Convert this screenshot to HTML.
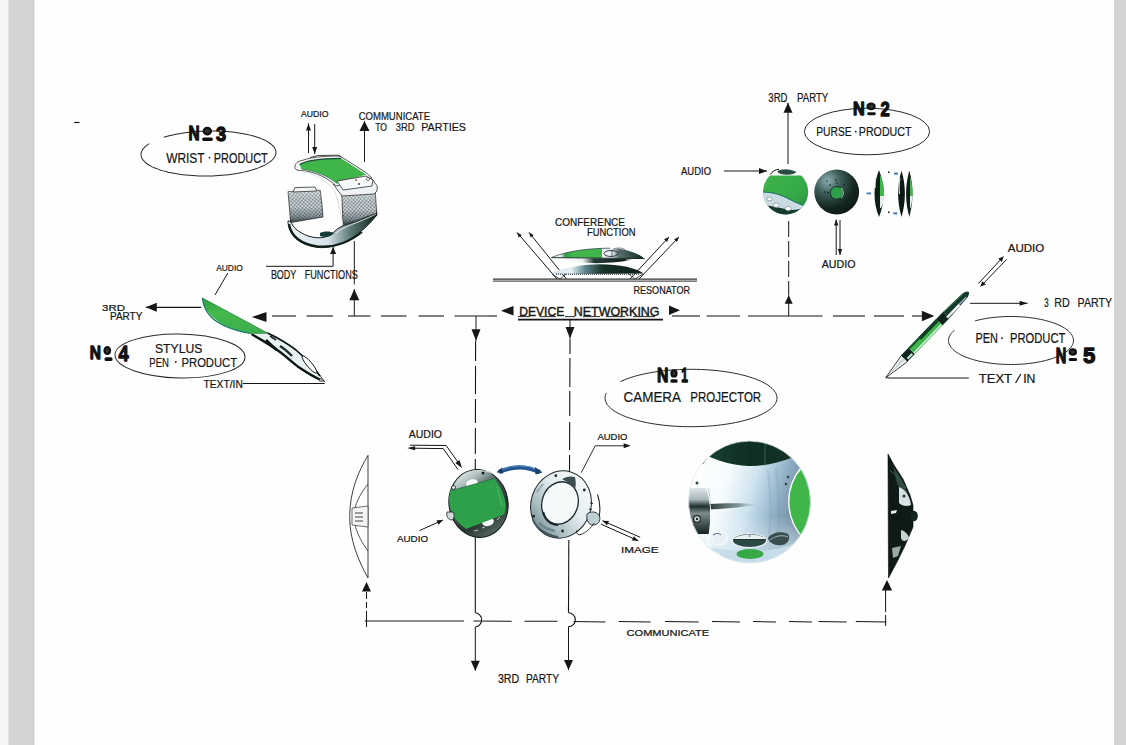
<!DOCTYPE html>
<html><head><meta charset="utf-8"><style>
html,body{margin:0;padding:0;background:#fff;}
#page{position:relative;width:1126px;height:745px;overflow:hidden;background:#fefefe;font-family:"Liberation Sans",sans-serif;}
.b1{position:absolute;left:0;top:0;width:8px;height:745px;background:linear-gradient(to right,#f6f6f6 0px,#f6f6f6 7px,#f8f8fa 7px);}
.b2{position:absolute;left:8px;top:0;width:26px;height:745px;background:linear-gradient(to right,#e4e4e6 0px,#e4e4e6 1px,#d4d4d7 1px,#d4d4d7 25px,#cdcdcf 25px,#cdcdcf 26px);}
.b2e{position:absolute;left:34px;top:0;width:1px;height:745px;background:#eeeef0;}
.b3{position:absolute;left:1114px;top:0;width:12px;height:745px;background:#d4d4d6;}
svg{position:absolute;left:0;top:0;}
svg text{font-family:"Liberation Sans",sans-serif;}
</style></head><body><div id="page"><div class="b1"></div><div class="b2"></div><div class="b2e"></div><div class="b3"></div>
<svg width="1126" height="745" viewBox="0 0 1126 745">
<defs>
<linearGradient id="gGreen" x1="0" y1="0" x2="0" y2="1">
 <stop offset="0" stop-color="#2e9e44"/><stop offset="0.4" stop-color="#43b84b"/><stop offset="1" stop-color="#3db04c"/>
</linearGradient>
<linearGradient id="gSilver" x1="0" y1="0" x2="1" y2="1">
 <stop offset="0" stop-color="#ffffff"/><stop offset="0.45" stop-color="#dfe8ee"/><stop offset="0.8" stop-color="#9fb3bd"/><stop offset="1" stop-color="#5f7580"/>
</linearGradient>
<linearGradient id="gDark" x1="0" y1="0" x2="1" y2="1">
 <stop offset="0" stop-color="#3c5a52"/><stop offset="0.5" stop-color="#0f2a24"/><stop offset="1" stop-color="#06140f"/>
</linearGradient>
<radialGradient id="gDisc" cx="0.35" cy="0.3" r="0.8">
 <stop offset="0" stop-color="#5a7a72"/><stop offset="0.5" stop-color="#1d3a33"/><stop offset="1" stop-color="#081812"/>
</radialGradient>
<pattern id="mesh" width="2.6" height="2.6" patternUnits="userSpaceOnUse" patternTransform="rotate(40)">
 <rect width="2.6" height="2.6" fill="#e4ecef"/><circle cx="1.3" cy="1.3" r="0.85" fill="#56686e"/>
</pattern>
</defs>
<path d="M164.22,136.52 L166.79,135.81 L169.46,135.14 L172.23,134.52 L175.09,133.95 L178.03,133.42 L181.05,132.95 L184.13,132.52 L187.27,132.14 L190.46,131.82 L193.70,131.55 L196.97,131.33 L200.27,131.17 L203.60,131.06 L206.93,131.01 L210.27,131.01 L213.60,131.06 L216.92,131.18 L220.22,131.34 L223.49,131.56 L226.73,131.84 L229.92,132.16 L233.06,132.54 L236.13,132.97 L239.14,133.45 L242.08,133.98 L244.93,134.56 L247.70,135.18 L250.37,135.85 L252.93,136.56 L255.39,137.31 L257.73,138.11 L259.95,138.94 L262.05,139.80 L264.02,140.70 L265.85,141.63 L267.54,142.59 L269.08,143.58 L270.48,144.59 L271.73,145.62 L272.82,146.67 L273.75,147.74 L274.52,148.82 L275.14,149.92 L275.59,151.02 L275.87,152.13 L276.00,153.24 L275.95,154.35 L275.74,155.46 L275.37,156.57 L274.83,157.66 L274.13,158.75 L273.28,159.83 L272.26,160.89 L271.08,161.93 L269.76,162.95 L268.28,163.95 L266.66,164.92 L264.90,165.86 L262.99,166.78 L260.96,167.66 L258.79,168.51 L256.51,169.32 L254.10,170.09 L251.59,170.82 L248.97,171.51 L246.25,172.15 L243.43,172.75 L240.54,173.30 L237.56,173.81 L234.51,174.26 L231.40,174.67 L228.24,175.02 L225.02,175.32 L221.76,175.56 L218.48,175.75 L215.17,175.89 L211.84,175.97 L208.50,176.00 L205.16,175.97 L201.83,175.89 L198.52,175.75 L195.24,175.56 L191.98,175.32 L188.76,175.02 L185.60,174.67 L182.49,174.26 L179.44,173.81 L176.46,173.30 L173.57,172.75 L170.75,172.15 L168.03,171.51 L165.41,170.82 L162.90,170.09 L160.49,169.32 L158.21,168.51 L156.04,167.66 L154.01,166.78 L152.10,165.86 L150.34,164.92 L148.72,163.95 L147.24,162.95 L145.92,161.93 L144.74,160.89 L143.72,159.83 L142.87,158.75 L142.17,157.66 L141.63,156.57 L141.26,155.46 L141.05,154.35 L141.00,153.24 L141.13,152.13 L141.41,151.02 L141.86,149.92 L142.48,148.82 L143.25,147.74 L144.18,146.67 L145.27,145.62 L146.52,144.59 L147.92,143.58 L149.46,142.59" fill="none" stroke="#2a2a2a" stroke-width="1.0" stroke-linejoin="round" transform="rotate(-1 208.5 153.5)"/>
<text x="188.4" y="139.9" font-size="20.06" font-weight="bold" fill="#111" textLength="11.1" lengthAdjust="spacingAndGlyphs" stroke="#111" stroke-width="1.3" stroke-linejoin="round">N</text>
<ellipse cx="207.3" cy="131.1" rx="3.6" ry="3.2" fill="#333" stroke="#111" stroke-width="2.2"/>
<rect x="202.2" y="137.5" width="10.6" height="3.4" rx="1.5" fill="#111"/>
<text x="215.9" y="140.7" font-size="20.49" font-weight="bold" fill="#111" textLength="10.1" lengthAdjust="spacingAndGlyphs" stroke="#111" stroke-width="1.3" stroke-linejoin="round">3</text>
<text x="166.2" y="162.5" font-size="14.39" font-weight="normal" fill="#161616" textLength="38.4" lengthAdjust="spacingAndGlyphs" stroke="#151515" stroke-width="0.22">WRIST</text>
<circle cx="209.5" cy="157.6" r="0.9" fill="#161616"/>
<text x="213.8" y="162.5" font-size="14.39" font-weight="normal" fill="#161616" textLength="54.0" lengthAdjust="spacingAndGlyphs" stroke="#151515" stroke-width="0.22">PRODUCT</text>
<text x="301.0" y="116.6" font-size="8.58" font-weight="normal" fill="#161616" textLength="27.4" lengthAdjust="spacingAndGlyphs" stroke="#151515" stroke-width="0.22">AUDIO</text>
<line x1="308.5" y1="153" x2="308.5" y2="123.4" stroke="#161616" stroke-width="1.0"/>
<polygon points="308.5,123.4 311.0,130.4 306.0,130.4" fill="#161616"/>
<line x1="314.7" y1="124" x2="314.7" y2="154" stroke="#161616" stroke-width="1.0"/>
<polygon points="314.7,154.0 312.2,147.0 317.2,147.0" fill="#161616"/>
<text x="358.7" y="119.5" font-size="11.63" font-weight="normal" fill="#161616" textLength="71.3" lengthAdjust="spacingAndGlyphs" stroke="#151515" stroke-width="0.22">COMMUNICATE</text>
<text x="375.3" y="131.3" font-size="11.63" font-weight="normal" fill="#161616" textLength="11.7" lengthAdjust="spacingAndGlyphs" stroke="#151515" stroke-width="0.22">TO</text>
<text x="395.8" y="131.3" font-size="11.63" font-weight="normal" fill="#161616" textLength="18.6" lengthAdjust="spacingAndGlyphs" stroke="#151515" stroke-width="0.22">3RD</text>
<text x="421.2" y="131.3" font-size="11.63" font-weight="normal" fill="#161616" textLength="44.8" lengthAdjust="spacingAndGlyphs" stroke="#151515" stroke-width="0.22">PARTIES</text>
<line x1="364.5" y1="162" x2="364.5" y2="121" stroke="#161616" stroke-width="1.0"/>
<polygon points="364.5,121.0 369.5,131.0 359.5,131.0" fill="#161616"/>
<linearGradient id="gBase" x1="0" y1="0" x2="1" y2="0">
 <stop offset="0" stop-color="#eef3f5"/><stop offset="0.45" stop-color="#d6e2e8"/><stop offset="0.7" stop-color="#5d7a78"/><stop offset="1" stop-color="#0d201a"/></linearGradient>
<linearGradient id="gMeshShade" x1="0" y1="0" x2="0" y2="1">
 <stop offset="0" stop-color="#fff" stop-opacity="0.25"/><stop offset="0.5" stop-color="#000" stop-opacity="0.05"/><stop offset="0.8" stop-color="#0a1a20" stop-opacity="0.35"/><stop offset="1" stop-color="#0a1a20" stop-opacity="0.75"/></linearGradient>
<path d="M288,221 C288,234 298,245 318,247.5 C338,249 358,238 377,215 L376.5,211 C366,218 356,222 348,224 C340,226 336,230 332,234 C326,238 318,239 308,236 C298,232 292,227 291,221 Z" fill="url(#gBase)" stroke="#0e1e1a" stroke-width="1.0" />
<path d="M289,224 C291,236 300,244 318,246.5 C336,248 352,240 362,232" fill="none" stroke="#0e1e1a" stroke-width="2.2" />
<path d="M320,233 C324,231 330,231 334,233 C331,237 325,238 320,236 Z" fill="#163a36" stroke="none" stroke-width="1.0" />
<path d="M336,233 C344,226 356,224 376,214" fill="none" stroke="#ffffff" stroke-width="0.8" />
<path d="M288,191.5 L320.3,190.3 L322,205 L323,217 L290.7,222.5 Z" fill="url(#mesh)" stroke="#333" stroke-width="0.8" />
<path d="M288,191.5 L320.3,190.3 L322,205 L323,217 L290.7,222.5 Z" fill="url(#gMeshShade)" stroke="none" stroke-width="1.0" />
<path d="M294.8,187.6 L315,187 L317,191 L293,192 Z" fill="#f0f4f6" stroke="#333" stroke-width="0.8" />
<path d="M341.8,194.3 L375.3,193 L376.7,213 L358,220 L343,225 Z" fill="url(#mesh)" stroke="#333" stroke-width="0.8" />
<path d="M341.8,194.3 L375.3,193 L376.7,213 L358,220 L343,225 Z" fill="url(#gMeshShade)" stroke="none" stroke-width="1.0" />
<path d="M333,184 L372,179 L377.3,186 L377,191 L374,194 L342,196 Z" fill="#eef2f4" stroke="#333" stroke-width="0.8" />
<path d="M294.8,167.5 C295,163 298,161 302,160.5 C310,157.5 322,156 340,156 L366,172.5 L372,178 L336,186 C328,178 316,172 302,170.5 C298,170.5 295,170 294.8,167.5 Z" fill="#f2f5f7" stroke="#333" stroke-width="0.8" />
<path d="M310,157.5 L318,155.5 L338,155.2 L341,157" fill="none" stroke="#333" stroke-width="0.9" />
<path d="M299.5,164.5 C306,160.5 318,158.5 341,158.3 L366,174.5 L337,183.5 C328,176 316,171 301.5,169 Z" fill="#3fb54a" stroke="none" stroke-width="1.0" />
<path d="M299.5,164.5 C306,160.5 318,158.5 341,158.3" fill="none" stroke="#1f4a3a" stroke-width="1.2" />
<path d="M301.5,169 C316,171 328,176 337,183.5" fill="none" stroke="#1f6a3a" stroke-width="0.6" />
<path d="M337,181 L366,176 L373,180 L372,186 L343,190 Z" fill="#f6f8f9" stroke="#333" stroke-width="0.8" />
<circle cx="356" cy="180" r="0.9" fill="#a33"/><circle cx="359" cy="184" r="0.9" fill="#333"/><circle cx="368" cy="179" r="1.6" fill="none" stroke="#333" stroke-width="0.6"/>
<path d="M302,171 C316,174 328,182 334,190 C338,198 340,210 343,225" fill="none" stroke="#cbd6dc" stroke-width="0.8" />
<text x="270.9" y="279.0" font-size="12.35" font-weight="normal" fill="#161616" textLength="25.4" lengthAdjust="spacingAndGlyphs" stroke="#151515" stroke-width="0.22">BODY</text>
<text x="304.7" y="279.0" font-size="12.35" font-weight="normal" fill="#161616" textLength="53.2" lengthAdjust="spacingAndGlyphs" stroke="#151515" stroke-width="0.22">FUNCTIONS</text>
<line x1="266" y1="266.3" x2="333.1" y2="266.3" stroke="#161616" stroke-width="1.0"/>
<line x1="333.1" y1="266.3" x2="333.1" y2="247" stroke="#161616" stroke-width="1.0"/>
<polygon points="333.1,247.0 336.1,254.0 330.1,254.0" fill="#161616"/>
<line x1="354.3" y1="241" x2="354.3" y2="284.4" stroke="#161616" stroke-width="1.0"/>
<line x1="354.3" y1="316" x2="354.3" y2="289.2" stroke="#161616" stroke-width="1.0"/>
<polygon points="354.3,289.2 359.3,300.2 349.3,300.2" fill="#161616"/>
<text x="216.2" y="270.8" font-size="9.45" font-weight="normal" fill="#161616" textLength="26.6" lengthAdjust="spacingAndGlyphs" stroke="#151515" stroke-width="0.22">AUDIO</text>
<line x1="227.8" y1="273" x2="215" y2="295" stroke="#161616" stroke-width="1.0"/>
<line x1="201.2" y1="307.3" x2="145.8" y2="307.3" stroke="#161616" stroke-width="1.2"/>
<polygon points="145.8,307.3 156.8,302.8 156.8,311.8" fill="#161616"/>
<text x="102.0" y="310.5" font-size="9.01" font-weight="normal" fill="#161616" textLength="23.0" lengthAdjust="spacingAndGlyphs" stroke="#151515" stroke-width="0.22">3RD</text>
<text x="110.0" y="320.4" font-size="10.03" font-weight="normal" fill="#161616" textLength="32.3" lengthAdjust="spacingAndGlyphs" stroke="#151515" stroke-width="0.22">PARTY</text>
<ellipse cx="180" cy="356" rx="65" ry="22" fill="none" stroke="#2a2a2a" stroke-width="1.0" transform="rotate(1 180 356)"/>
<text x="89.7" y="358.9" font-size="19.19" font-weight="bold" fill="#111" textLength="11.2" lengthAdjust="spacingAndGlyphs" stroke="#111" stroke-width="1.3" stroke-linejoin="round">N</text>
<ellipse cx="107.3" cy="350.6" rx="2.8" ry="3.4" fill="#333" stroke="#111" stroke-width="2.2"/>
<rect x="104.5" y="357.3" width="8.0" height="3.6" rx="1.5" fill="#111"/>
<text x="118.4" y="361.2" font-size="22.82" font-weight="bold" fill="#111" textLength="10.1" lengthAdjust="spacingAndGlyphs" stroke="#111" stroke-width="1.3" stroke-linejoin="round">4</text>
<text x="155.0" y="353.4" font-size="12.65" font-weight="normal" fill="#161616" textLength="47.4" lengthAdjust="spacingAndGlyphs" stroke="#151515" stroke-width="0.22">STYLUS</text>
<text x="149.3" y="366.6" font-size="13.37" font-weight="normal" fill="#161616" textLength="19.6" lengthAdjust="spacingAndGlyphs" stroke="#151515" stroke-width="0.22">PEN</text>
<circle cx="175.8" cy="362.0" r="0.9" fill="#161616"/>
<text x="181.6" y="366.6" font-size="13.37" font-weight="normal" fill="#161616" textLength="55.4" lengthAdjust="spacingAndGlyphs" stroke="#151515" stroke-width="0.22">PRODUCT</text>
<text x="203.5" y="388.0" font-size="10.90" font-weight="normal" fill="#161616" textLength="39.3" lengthAdjust="spacingAndGlyphs" stroke="#151515" stroke-width="0.22">TEXT/IN</text>
<line x1="243" y1="383.5" x2="324.7" y2="383.5" stroke="#161616" stroke-width="1.0"/>
<path d="M251,333 L267.5,333 C280,338 292,346 302,355 C310,362 318,372 324,381 C316,379 306,373 298,367 C290,360 282,352 275,349 C266,344 258,338 251,334 Z" fill="#e9f1f2" stroke="#0e1a16" stroke-width="0.8" />
<path d="M252,334.5 C262,340 272,346 280,352 C288,358 294,364 300,368 C306,372 314,377 322,380.5" fill="none" stroke="#0c1612" stroke-width="2.4" />
<path d="M267.5,333 C278,338 288,344 296,350 C304,357 312,366 320,376" fill="none" stroke="#0c1612" stroke-width="1.6" />
<path d="M266,340 C270,344 274,348 277,350" fill="none" stroke="#0c1612" stroke-width="2.6" />
<path d="M280,346 C285,349 289,353 292,356" fill="none" stroke="#1a2a26" stroke-width="2.4" />
<path d="M270,336 L276,340" fill="none" stroke="#1a2a26" stroke-width="1.6" />
<ellipse cx="309.5" cy="364.5" rx="11" ry="2.6" fill="#ffffff" stroke="#0c1612" stroke-width="0.9" transform="rotate(50 309.5 364.5)"/>
<path d="M320,378 L325,381.5 L319,381 Z" fill="#bbb" stroke="#222" stroke-width="0.6" />
<path d="M202.4,298 L267.5,333 C260,334 252,334 248.7,333 C240,331 232,329 226,326 C216,321 208,314 204,306 C203,303 202.4,300 202.4,298 Z" fill="url(#gGreen)" stroke="none" stroke-width="1.0" />
<path d="M202.4,298 C203,305 206,312 212,318 C220,325 232,330 250,333.5" fill="none" stroke="#137a6a" stroke-width="1.2" />
<path d="M202.4,298 L267.5,333" fill="none" stroke="#2c8a3a" stroke-width="0.8" />
<polygon points="252.0,317.0 266.5,312.0 266.5,322.0" fill="#161616"/>
<line x1="272" y1="316" x2="296" y2="316" stroke="#161616" stroke-width="1.1"/>
<line x1="306.6" y1="316" x2="333" y2="316" stroke="#161616" stroke-width="1.1"/>
<line x1="348" y1="316" x2="370.5" y2="316" stroke="#161616" stroke-width="1.1"/>
<line x1="381" y1="316" x2="406.5" y2="316" stroke="#161616" stroke-width="1.1"/>
<line x1="418.5" y1="316" x2="444" y2="316" stroke="#161616" stroke-width="1.1"/>
<line x1="454.5" y1="316" x2="488" y2="316" stroke="#161616" stroke-width="1.1"/>
<line x1="672" y1="316" x2="700" y2="316" stroke="#161616" stroke-width="1.1"/>
<line x1="706.6" y1="316" x2="740" y2="316" stroke="#161616" stroke-width="1.1"/>
<line x1="748" y1="316" x2="822.5" y2="316" stroke="#161616" stroke-width="1.1"/>
<line x1="833" y1="316" x2="865" y2="316" stroke="#161616" stroke-width="1.1"/>
<line x1="874" y1="316" x2="904" y2="316" stroke="#161616" stroke-width="1.1"/>
<line x1="912" y1="316" x2="924" y2="316" stroke="#161616" stroke-width="1.1"/>
<polygon points="934.4,316.0 921.9,321.2 921.9,310.8" fill="#161616"/>
<text x="519.2" y="315.5" font-size="12.65" font-weight="normal" fill="#161616" textLength="45.1" lengthAdjust="spacingAndGlyphs" stroke="#1c1c1c" stroke-width="0.45">DEVICE</text>
<text x="573.8" y="315.5" font-size="12.65" font-weight="normal" fill="#161616" textLength="85.7" lengthAdjust="spacingAndGlyphs" stroke="#1c1c1c" stroke-width="0.45">NETWORKING</text>
<line x1="518" y1="319.6" x2="663" y2="319.6" stroke="#161616" stroke-width="1.8"/>
<line x1="518" y1="316.6" x2="530" y2="316.6" stroke="#161616" stroke-width="0.9"/>
<line x1="540" y1="316.6" x2="556" y2="316.6" stroke="#161616" stroke-width="0.9"/>
<line x1="565" y1="316.6" x2="575" y2="316.6" stroke="#161616" stroke-width="0.9"/>
<line x1="583" y1="316.6" x2="600" y2="316.6" stroke="#161616" stroke-width="0.9"/>
<line x1="606" y1="316.6" x2="625" y2="316.6" stroke="#161616" stroke-width="0.9"/>
<line x1="633" y1="316.6" x2="655" y2="316.6" stroke="#161616" stroke-width="0.9"/>
<line x1="488" y1="316" x2="497" y2="316" stroke="#161616" stroke-width="1.1"/>
<polygon points="501.0,310.7 513.5,305.9 513.5,315.5" fill="#161616"/>
<polygon points="680.0,310.3 669.0,315.1 669.0,305.5" fill="#161616"/>
<line x1="476" y1="316" x2="476" y2="340.8" stroke="#161616" stroke-width="1.0"/>
<polygon points="476.0,340.8 471.5,329.3 480.5,329.3" fill="#161616"/>
<line x1="475.6" y1="341" x2="475.3" y2="470" stroke="#161616" stroke-width="1.1" stroke-dasharray="20 5 28 5 24 5 26 5 30 5"/>
<line x1="475.3" y1="537" x2="475.3" y2="612.7" stroke="#161616" stroke-width="1.1"/>
<path d="M475.3,612.7 A7.2,7.2 0 0 1 475.3,627" fill="none" stroke="#161616" stroke-width="1.1" />
<line x1="570" y1="319.5" x2="570" y2="338.5" stroke="#161616" stroke-width="1.0"/>
<polygon points="570.0,338.5 565.5,327.0 574.5,327.0" fill="#161616"/>
<line x1="570" y1="339" x2="569.5" y2="472" stroke="#161616" stroke-width="1.1" stroke-dasharray="15 4 29 4 25 6 28 5 30 5"/>
<line x1="568.8" y1="540" x2="568.5" y2="612.8" stroke="#161616" stroke-width="1.1"/>
<path d="M568.5,612.8 A6.9,6.9 0 0 1 568.5,626.6" fill="none" stroke="#161616" stroke-width="1.1" />
<text x="555.0" y="225.9" font-size="10.90" font-weight="normal" fill="#161616" textLength="70.0" lengthAdjust="spacingAndGlyphs" stroke="#151515" stroke-width="0.22">CONFERENCE</text>
<text x="587.0" y="236.0" font-size="10.76" font-weight="normal" fill="#161616" textLength="48.5" lengthAdjust="spacingAndGlyphs" stroke="#151515" stroke-width="0.22">FUNCTION</text>
<line x1="493" y1="279.2" x2="697" y2="279.2" stroke="#333" stroke-width="1.2"/>
<line x1="493" y1="281.2" x2="697" y2="281.2" stroke="#555" stroke-width="1.2"/>
<text x="633.5" y="293.6" font-size="11.05" font-weight="normal" fill="#161616" textLength="56.5" lengthAdjust="spacingAndGlyphs" stroke="#151515" stroke-width="0.22">RESONATOR</text>
<line x1="557" y1="279" x2="517" y2="232.4" stroke="#161616" stroke-width="1.0"/>
<polygon points="517.0,232.4 521.8,234.9 518.7,237.5" fill="#161616"/>
<line x1="566.5" y1="279" x2="529" y2="232.4" stroke="#161616" stroke-width="1.0"/>
<polygon points="529.0,232.4 533.7,235.0 530.6,237.5" fill="#161616"/>
<line x1="630" y1="279" x2="669" y2="237" stroke="#161616" stroke-width="1.0"/>
<polygon points="669.0,237.0 667.1,242.0 664.1,239.3" fill="#161616"/>
<line x1="639" y1="279" x2="679" y2="237" stroke="#161616" stroke-width="1.0"/>
<polygon points="679.0,237.0 677.0,242.0 674.1,239.2" fill="#161616"/>
<linearGradient id="gLow" x1="0" y1="0" x2="1" y2="0">
 <stop offset="0" stop-color="#cfe0e6"/><stop offset="0.2" stop-color="#e8f2f6"/><stop offset="0.35" stop-color="#5f8a90"/><stop offset="0.55" stop-color="#17322a"/><stop offset="1" stop-color="#0d1f19"/></linearGradient>
<linearGradient id="gUp" x1="0" y1="0" x2="1" y2="0">
 <stop offset="0" stop-color="#f4f8f8"/><stop offset="0.1" stop-color="#e8f0f0"/><stop offset="0.15" stop-color="#2f9a48"/><stop offset="0.22" stop-color="#3fb54a"/><stop offset="0.54" stop-color="#3fb54a"/><stop offset="0.545" stop-color="#f2f6f6"/><stop offset="0.66" stop-color="#e2eaee"/><stop offset="0.72" stop-color="#5a7470"/><stop offset="1" stop-color="#0d201a"/></linearGradient>
<linearGradient id="gUnder" x1="0" y1="0" x2="1" y2="0">
 <stop offset="0" stop-color="#ffffff"/><stop offset="0.3" stop-color="#e9f1f3"/><stop offset="0.45" stop-color="#243a34"/><stop offset="0.85" stop-color="#0f231c"/><stop offset="1" stop-color="#ffffff" stop-opacity="0"/></linearGradient>
<path d="M552.8,272.4 C565,267 585,264.4 600,264.2 C620,264.2 636,268 643.7,273.4 L552.8,274.2 Z" fill="url(#gLow)"/>
<line x1="556" y1="274.3" x2="640" y2="274.3" stroke="#334" stroke-width="1.4" stroke-dasharray="0.8 1.2"/>
<path d="M552,274 L560,279 L566,274" fill="none" stroke="#222" stroke-width="0.8"/>
<path d="M629,274 L635,279 L643,274" fill="none" stroke="#222" stroke-width="0.8"/>
<path d="M560,258 C575,264.5 612,265 636,258.8 Z" fill="url(#gUnder)"/>
<path d="M551.4,257.6 C566,251 590,248.2 610,248.2 C625,248.2 638,253 644.6,258.6 C620,258.4 580,258.2 551.4,257.6 Z" fill="url(#gUp)"/>
<path d="M551.4,257.6 L644.6,258.6" fill="none" stroke="#0f1f1a" stroke-width="0.9"/>
<path d="M551.4,257.6 C566,251 590,248.2 610,248.2" fill="none" stroke="#234" stroke-width="0.7"/>
<ellipse cx="611" cy="253.5" rx="7" ry="3" fill="none" stroke="#223" stroke-width="0.9"/>
<ellipse cx="619" cy="250" rx="6" ry="2" fill="none" stroke="#556" stroke-width="0.7"/>
<line x1="612" y1="251" x2="612" y2="256" stroke="#223" stroke-width="0.7"/>
<text x="768.3" y="101.6" font-size="13.23" font-weight="normal" fill="#161616" textLength="19.2" lengthAdjust="spacingAndGlyphs" stroke="#151515" stroke-width="0.22">3RD</text>
<text x="797.1" y="101.6" font-size="13.23" font-weight="normal" fill="#161616" textLength="31.2" lengthAdjust="spacingAndGlyphs" stroke="#151515" stroke-width="0.22">PARTY</text>
<line x1="788" y1="164" x2="788" y2="102.8" stroke="#161616" stroke-width="1.0"/>
<polygon points="788.0,102.8 792.5,112.8 783.5,112.8" fill="#161616"/>
<ellipse cx="867" cy="131.5" rx="62.6" ry="23.3" fill="none" stroke="#2a2a2a" stroke-width="1.0" transform="rotate(0 867 131.5)"/>
<text x="853.0" y="115.0" font-size="18.46" font-weight="bold" fill="#111" textLength="11.7" lengthAdjust="spacingAndGlyphs" stroke="#111" stroke-width="1.3" stroke-linejoin="round">N</text>
<ellipse cx="871.1" cy="106.4" rx="3.6" ry="2.8" fill="#333" stroke="#111" stroke-width="2.2"/>
<rect x="867.2" y="112.3" width="8.6" height="2.9" rx="1.5" fill="#111"/>
<text x="880.4" y="116.2" font-size="19.62" font-weight="bold" fill="#111" textLength="9.2" lengthAdjust="spacingAndGlyphs" stroke="#111" stroke-width="1.3" stroke-linejoin="round">2</text>
<text x="816.2" y="136.4" font-size="13.66" font-weight="normal" fill="#161616" textLength="35.4" lengthAdjust="spacingAndGlyphs" stroke="#151515" stroke-width="0.22">PURSE</text>
<circle cx="855.8" cy="131.7" r="0.9" fill="#161616"/>
<text x="858.8" y="136.4" font-size="13.66" font-weight="normal" fill="#161616" textLength="52.7" lengthAdjust="spacingAndGlyphs" stroke="#151515" stroke-width="0.22">PRODUCT</text>
<text x="681.0" y="174.7" font-size="10.47" font-weight="normal" fill="#161616" textLength="30.0" lengthAdjust="spacingAndGlyphs" stroke="#151515" stroke-width="0.22">AUDIO</text>
<line x1="724" y1="171" x2="767" y2="171" stroke="#161616" stroke-width="1.0"/>
<polygon points="767.0,171.0 759.0,174.0 759.0,168.0" fill="#161616"/>
<clipPath id="cGD"><circle cx="785.6" cy="191.8" r="22.6"/></clipPath>
<radialGradient id="gDisc2" cx="0.3" cy="0.25" r="0.85">
 <stop offset="0" stop-color="#8fb0b4"/><stop offset="0.35" stop-color="#3b5a56"/><stop offset="0.7" stop-color="#14281f"/><stop offset="1" stop-color="#0a1812"/></radialGradient>
<linearGradient id="gGD" x1="0" y1="0" x2="1" y2="1">
 <stop offset="0" stop-color="#3fb54a"/><stop offset="0.6" stop-color="#35a848"/><stop offset="1" stop-color="#1e7a3c"/></linearGradient>
<g clip-path="url(#cGD)">
<rect x="760" y="175.5" width="50" height="45" fill="url(#gGD)"/>
<path d="M760,192 C768,192 778,192.5 791.6,200.4 C797,203 801,205 810,207 L810,220 L760,220 Z" fill="#c9dbe3"/>
<path d="M764,205 C772,206 784,209 792,210 C798,210 804,208 810,205 L810,220 L764,220 Z" fill="#163a2c"/>
<path d="M760,192 C768,192 778,192.5 791.6,200.4 C797,203 801,205 810,207" fill="none" stroke="#1b6a6a" stroke-width="1"/>
<ellipse cx="787" cy="171.5" rx="9.5" ry="3.2" fill="#2b4a44"/>
</g>
<path d="M770.5,174.5 C772,171 776,169.5 779,169.3" fill="none" stroke="#111" stroke-width="1"/>
<ellipse cx="769.5" cy="199" rx="2.6" ry="1.8" fill="#fff" stroke="#567" stroke-width="0.5"/>
<ellipse cx="776.2" cy="205.2" rx="3" ry="2.2" fill="#fff" stroke="#567" stroke-width="0.5"/>
<ellipse cx="788.2" cy="208.6" rx="3" ry="2.2" fill="#fff" stroke="#567" stroke-width="0.5"/>
<circle cx="836.7" cy="192" r="22.4" fill="url(#gDisc2)"/>
<circle cx="836.6" cy="192.8" r="6.4" fill="#2f9e48" stroke="#0d2018" stroke-width="0.8"/>
<path d="M841,188 C844,191 844,195 841,198" fill="none" stroke="#dfe" stroke-width="0.8"/>
<g fill="#0c1a14"><circle cx="827" cy="181" r="0.8"/><circle cx="830" cy="185" r="0.8"/><circle cx="836" cy="180" r="0.8"/><circle cx="837" cy="183" r="0.8"/><circle cx="844" cy="185" r="0.8"/><circle cx="825" cy="192" r="0.8"/><circle cx="828" cy="192.5" r="0.8"/></g>

<path d="M879,170 C873,185 873,203 879,217 C885,203 885,185 879,170 Z" fill="#0e1f19" stroke="none" stroke-width="1.0" />
<path d="M880,175 C884,183 884.5,190 884,196 L880,196 Z" fill="#3fb54a" stroke="none" stroke-width="1.0" />
<path d="M880,196 L884,196 C884,201 883,205 881,208 L880,208 Z" fill="#e4ecee" stroke="none" stroke-width="1.0" />
<path d="M876,176 C875,180 875,184 875.5,188" fill="none" stroke="#dfe8ea" stroke-width="0.8" />
<path d="M901.5,170.5 C897,186 897,202 901.5,217 C906,202 906,186 901.5,170.5 Z" fill="#0c1a15" stroke="none" stroke-width="1.0" />
<path d="M900,178 C899,184 899,190 899.5,194" fill="none" stroke="#e8eef0" stroke-width="1.0" />
<path d="M909.3,170.5 C905,186 905,202 909.3,217 C913.5,202 913.5,186 909.3,170.5 Z" fill="#0e1f19" stroke="none" stroke-width="1.0" />
<path d="M910,177 C912.5,185 912.8,190 912.4,196 L910,196 Z" fill="#3fb54a" stroke="none" stroke-width="1.0" />
<path d="M910,196 L912.4,196 C912.2,201 911.5,205 910.5,208 L910,208 Z" fill="#e4ecee" stroke="none" stroke-width="1.0" />
<rect x="866.5" y="192.5" width="4.5" height="1.8" fill="#3d7fbf"/><rect x="894" y="172.6" width="4" height="2" fill="#3d7fbf"/><rect x="893.3" y="212.4" width="4" height="2" fill="#3d7fbf"/>
<rect x="888" y="171.5" width="1.5" height="1.5" fill="#111"/><rect x="888" y="211.5" width="1.5" height="1.5" fill="#111"/>
<line x1="788.7" y1="221" x2="788.7" y2="295" stroke="#161616" stroke-width="1.0" stroke-dasharray="16 4"/>
<line x1="788.7" y1="316" x2="788.7" y2="295.3" stroke="#161616" stroke-width="1.0"/>
<polygon points="788.7,295.3 792.7,303.8 784.7,303.8" fill="#161616"/>
<line x1="836.2" y1="255" x2="836.2" y2="219.6" stroke="#161616" stroke-width="1.0"/>
<polygon points="836.2,219.6 838.4,225.6 834.0,225.6" fill="#161616"/>
<line x1="840" y1="220" x2="840" y2="255" stroke="#161616" stroke-width="1.0"/>
<polygon points="840.0,255.0 837.8,249.0 842.2,249.0" fill="#161616"/>
<text x="821.7" y="268.0" font-size="10.17" font-weight="normal" fill="#161616" textLength="33.8" lengthAdjust="spacingAndGlyphs" stroke="#151515" stroke-width="0.22">AUDIO</text>
<text x="1007.7" y="252.2" font-size="11.34" font-weight="normal" fill="#161616" textLength="36.6" lengthAdjust="spacingAndGlyphs" stroke="#151515" stroke-width="0.22">AUDIO</text>
<line x1="1006.5" y1="259.5" x2="980.5" y2="286.5" stroke="#161616" stroke-width="1.0"/>
<polygon points="980.5,286.5 982.2,281.2 985.8,284.6" fill="#161616"/>
<line x1="978.5" y1="283.5" x2="1003.5" y2="256.5" stroke="#161616" stroke-width="1.0"/>
<polygon points="1003.5,256.5 1001.9,261.9 998.3,258.5" fill="#161616"/>
<line x1="970" y1="303.3" x2="1027.6" y2="303.3" stroke="#161616" stroke-width="1.0"/>
<polygon points="1027.6,303.3 1019.6,305.8 1019.6,300.8" fill="#161616"/>
<text x="1044.3" y="306.6" font-size="12.94" font-weight="normal" fill="#161616" textLength="4.4" lengthAdjust="spacingAndGlyphs" stroke="#151515" stroke-width="0.22">3</text>
<text x="1054.3" y="306.6" font-size="12.94" font-weight="normal" fill="#161616" textLength="15.5" lengthAdjust="spacingAndGlyphs" stroke="#151515" stroke-width="0.22">RD</text>
<text x="1077.6" y="306.6" font-size="12.94" font-weight="normal" fill="#161616" textLength="34.4" lengthAdjust="spacingAndGlyphs" stroke="#151515" stroke-width="0.22">PARTY</text>
<path d="M975.15,320.84 L977.65,320.20 L980.22,319.61 L982.87,319.07 L985.58,318.57 L988.35,318.13 L991.17,317.74 L994.03,317.40 L996.94,317.12 L999.88,316.88 L1002.84,316.71 L1005.82,316.58 L1008.82,316.51 L1011.82,316.50 L1014.82,316.54 L1017.80,316.64 L1020.78,316.80 L1023.73,317.00 L1026.65,317.26 L1029.53,317.58 L1032.38,317.95 L1035.17,318.37 L1037.91,318.84 L1040.58,319.36 L1043.19,319.93 L1045.72,320.54 L1048.18,321.21 L1050.54,321.91 L1052.82,322.66 L1055.00,323.46 L1057.08,324.29 L1059.05,325.15 L1060.91,326.06 L1062.66,326.99 L1064.29,327.96 L1065.80,328.96 L1067.17,329.98 L1068.42,331.03 L1069.54,332.10 L1070.52,333.18 L1071.37,334.29 L1072.08,335.41 L1072.64,336.54 L1073.07,337.68 L1073.35,338.83 L1073.49,339.98 L1073.48,341.13 L1073.33,342.28 L1073.03,343.42 L1072.60,344.56 L1072.02,345.69 L1071.30,346.81 L1070.44,347.92 L1069.45,349.00 L1068.32,350.07 L1067.05,351.11 L1065.66,352.14 L1064.15,353.13 L1062.51,354.09 L1060.75,355.03 L1058.88,355.93 L1056.90,356.79 L1054.81,357.62 L1052.62,358.41 L1050.33,359.15 L1047.96,359.85 L1045.50,360.51 L1042.96,361.13 L1040.34,361.69 L1037.66,362.21 L1034.92,362.67 L1032.12,363.09 L1029.27,363.45 L1026.38,363.76 L1023.46,364.02 L1020.51,364.22 L1017.53,364.37 L1014.54,364.46 L1011.55,364.50 L1008.55,364.48 L1005.55,364.41 L1002.57,364.28 L999.61,364.10 L996.67,363.86 L993.77,363.57 L990.91,363.23 L988.09,362.83 L985.33,362.38 L982.63,361.88 L979.99,361.34 L977.42,360.74 L974.93,360.10 L972.52,359.41 L970.20,358.68 L967.98,357.91 L965.85,357.10 L963.83,356.25 L961.92,355.36 L960.12,354.44 L958.44,353.48 L956.87,352.50 L955.44,351.49 L954.13,350.45 L952.95,349.39 L951.91,348.31 L951.00,347.22 L950.23,346.10 L949.60,344.98 L949.11,343.84 L948.76,342.70 L948.56,341.55 L948.50,340.40 L948.59,339.24 L948.81,338.10 L949.19,336.95 L949.70,335.82 L950.36,334.69 L951.15,333.58 L952.08,332.49 L953.15,331.41 L954.36,330.36" fill="none" stroke="#2a2a2a" stroke-width="1.0" stroke-linejoin="round" transform="rotate(0 1011 340.5)"/>
<text x="975.5" y="343.2" font-size="14.54" font-weight="normal" fill="#161616" textLength="22.5" lengthAdjust="spacingAndGlyphs" stroke="#151515" stroke-width="0.22">PEN</text>
<circle cx="1002.0" cy="338.2" r="0.9" fill="#161616"/>
<text x="1009.9" y="343.2" font-size="14.54" font-weight="normal" fill="#161616" textLength="55.5" lengthAdjust="spacingAndGlyphs" stroke="#151515" stroke-width="0.22">PRODUCT</text>
<text x="1055.8" y="362.7" font-size="21.51" font-weight="bold" fill="#111" textLength="10.6" lengthAdjust="spacingAndGlyphs" stroke="#111" stroke-width="1.3" stroke-linejoin="round">N</text>
<ellipse cx="1072.8" cy="352.0" rx="3.1" ry="2.7" fill="#333" stroke="#111" stroke-width="2.2"/>
<rect x="1068.6" y="358.0" width="8.5" height="3.1" rx="1.5" fill="#111"/>
<text x="1082.9" y="363.2" font-size="22.82" font-weight="bold" fill="#111" textLength="12.3" lengthAdjust="spacingAndGlyphs" stroke="#111" stroke-width="1.3" stroke-linejoin="round">5</text>
<text x="978.8" y="382.8" font-size="12.35" font-weight="normal" fill="#161616" textLength="33.2" lengthAdjust="spacingAndGlyphs" stroke="#151515" stroke-width="0.22">TEXT</text>
<text x="1023.2" y="382.8" font-size="12.35" font-weight="normal" fill="#161616" textLength="12.2" lengthAdjust="spacingAndGlyphs" stroke="#151515" stroke-width="0.22">IN</text>
<line x1="1015.6" y1="383" x2="1020.8" y2="374" stroke="#161616" stroke-width="1.2"/>
<line x1="886.7" y1="378" x2="968.8" y2="378" stroke="#161616" stroke-width="1.1"/>
<g transform="translate(885.6 377.9) rotate(-46)">
<path d="M0,0 L27,-4.2 L27,4.4 Z" fill="#f4f7f8" stroke="#1a1a1a" stroke-width="0.8"/>
<path d="M4,0 L27,-1.8 L27,1.8 Z" fill="#c9d6da"/>
<rect x="27" y="-4.5" width="10.5" height="9" fill="#0f241c"/>
<rect x="29" y="1.3" width="7" height="2.2" fill="#bfe6cf"/>
<rect x="37.5" y="-4.5" width="40" height="9" fill="#3fb54a"/>
<rect x="37.5" y="-4.5" width="40" height="2" fill="#16502e"/>
<rect x="52" y="-4.5" width="25.5" height="3.6" fill="#123d26"/>
<rect x="37.5" y="2.3" width="40" height="1.5" fill="#d9f2e0"/>
<rect x="77.5" y="-4.5" width="10" height="9" fill="#0f241c"/>
<path d="M87.5,-4.5 L114,-3.3 C118,-2.8 120,-1 119.6,0.4 C119,1.8 116,2.8 114,3.1 L87.5,4.5 Z" fill="#163a2a"/>
<rect x="86" y="1.1" width="18" height="2.4" fill="#f2f6f6"/>
<rect x="104" y="1.1" width="10" height="1.5" fill="#9ab"/>
<path d="M88,-3.8 L114,-2.7" stroke="#3a8a5a" stroke-width="0.8"/>
</g>
<path d="M620.55,381.54 L623.04,380.41 L625.69,379.33 L628.49,378.29 L631.44,377.30 L634.53,376.35 L637.76,375.46 L641.11,374.62 L644.58,373.84 L648.16,373.11 L651.85,372.45 L655.62,371.84 L659.48,371.30 L663.42,370.82 L667.42,370.40 L671.47,370.05 L675.57,369.77 L679.71,369.55 L683.88,369.40 L688.06,369.32 L692.25,369.30 L696.44,369.36 L700.61,369.48 L704.76,369.67 L708.88,369.93 L712.96,370.25 L716.98,370.64 L720.94,371.10 L724.83,371.61 L728.64,372.20 L732.37,372.84 L735.99,373.54 L739.50,374.30 L742.91,375.12 L746.18,375.99 L749.33,376.91 L752.34,377.88 L755.20,378.90 L757.91,379.97 L760.47,381.08 L762.85,382.23 L765.07,383.42 L767.11,384.64 L768.97,385.89 L770.64,387.17 L772.13,388.48 L773.42,389.81 L774.52,391.16 L775.42,392.52 L776.12,393.90 L776.62,395.29 L776.91,396.69 L777.00,398.08 L776.89,399.48 L776.57,400.88 L776.05,402.26 L775.32,403.64 L774.40,405.00 L773.28,406.35 L771.96,407.68 L770.45,408.98 L768.76,410.26 L766.87,411.51 L764.81,412.73 L762.58,413.91 L760.17,415.05 L757.60,416.16 L754.87,417.22 L751.99,418.23 L748.96,419.20 L745.80,420.12 L742.51,420.98 L739.09,421.79 L735.56,422.55 L731.93,423.24 L728.19,423.88 L724.37,424.45 L720.47,424.96 L716.50,425.41 L712.47,425.79 L708.39,426.11 L704.27,426.36 L700.11,426.54 L695.94,426.65 L691.75,426.70 L687.56,426.68 L683.38,426.59 L679.22,426.43 L675.08,426.20 L670.98,425.91 L666.93,425.55 L662.94,425.13 L659.02,424.64 L655.17,424.09 L651.40,423.48 L647.73,422.80 L644.16,422.07 L640.70,421.28 L637.37,420.43 L634.16,419.54 L631.08,418.59 L628.15,417.59 L625.36,416.54 L622.73,415.45 L620.27,414.32 L617.97,413.16 L615.84,411.95 L613.90,410.71 L612.13,409.44 L610.56,408.15 L609.17,406.83 L607.98,405.49 L606.98,404.13 L606.19,402.76 L605.60,401.37 L605.21,399.98 L605.02,398.58 L605.03,397.19 L605.26,395.79 L605.68,394.40 L606.31,393.02" fill="none" stroke="#2a2a2a" stroke-width="1.0" stroke-linejoin="round" transform="rotate(0 691 398)"/>
<text x="656.9" y="382.2" font-size="20.93" font-weight="bold" fill="#111" textLength="11.4" lengthAdjust="spacingAndGlyphs" stroke="#111" stroke-width="1.3" stroke-linejoin="round">N</text>
<ellipse cx="674.0" cy="373.4" rx="2.5" ry="3.1" fill="#333" stroke="#111" stroke-width="2.2"/>
<rect x="670.4" y="379.2" width="7.2" height="3.6" rx="1.5" fill="#111"/>
<text x="681.3" y="381.8" font-size="20.35" font-weight="bold" fill="#111" textLength="6.6" lengthAdjust="spacingAndGlyphs" stroke="#111" stroke-width="1.3" stroke-linejoin="round">1</text>
<text x="623.6" y="402.2" font-size="14.83" font-weight="normal" fill="#161616" textLength="57.4" lengthAdjust="spacingAndGlyphs" stroke="#151515" stroke-width="0.22">CAMERA</text>
<text x="690.3" y="402.2" font-size="14.83" font-weight="normal" fill="#161616" textLength="70.9" lengthAdjust="spacingAndGlyphs" stroke="#151515" stroke-width="0.22">PROJECTOR</text>
<path d="M368,455.4 L368,578 C358,560 349.7,540 349.7,516.6 C349.7,492 358,472 368,455.4 Z" fill="none" stroke="#2a2a2a" stroke-width="0.9" />
<path d="M368,484 C360,494 354,505 354,516 C354,528 360,540 368,551" fill="none" stroke="#2a2a2a" stroke-width="0.8" />
<path d="M352,508 L368,506 L368,527 L352,525 Z" fill="#f4f4f4" stroke="#333" stroke-width="0.7" />
<line x1="355" y1="513" x2="363" y2="513" stroke="#161616" stroke-width="0.8"/>
<line x1="355" y1="517" x2="363" y2="517" stroke="#161616" stroke-width="0.8"/>
<line x1="355" y1="521" x2="363" y2="521" stroke="#161616" stroke-width="0.8"/>
<text x="408.7" y="438.3" font-size="11.05" font-weight="normal" fill="#161616" textLength="33.3" lengthAdjust="spacingAndGlyphs" stroke="#151515" stroke-width="0.22">AUDIO</text>
<path d="M409.9,445.2 L446.2,445.5 L460.5,465.8" fill="none" stroke="#161616" stroke-width="1.0" />
<path d="M412,448.2 L443.3,448.6 L458.2,469.8" fill="none" stroke="#161616" stroke-width="1.0" />
<polygon points="407.1,448.1 415.1,446.2 415.1,450.2" fill="#161616"/>
<polygon points="462.0,468.0 455.3,462.9 459.5,460.0" fill="#161616"/>
<text x="397.0" y="542.4" font-size="9.30" font-weight="normal" fill="#161616" textLength="31.0" lengthAdjust="spacingAndGlyphs" stroke="#151515" stroke-width="0.22">AUDIO</text>
<line x1="419.5" y1="530.6" x2="443" y2="520" stroke="#161616" stroke-width="1.0"/>
<polygon points="443.0,520.0 438.6,524.7 436.5,520.2" fill="#161616"/>
<linearGradient id="gRing1" x1="0.3" y1="0" x2="0.7" y2="1">
 <stop offset="0" stop-color="#e2eaea"/><stop offset="0.18" stop-color="#a8b8b8"/><stop offset="0.35" stop-color="#4a5c5a"/><stop offset="0.7" stop-color="#26342f"/><stop offset="1" stop-color="#5a6c68"/></linearGradient>
<linearGradient id="gRing2" x1="0.8" y1="0" x2="0.2" y2="1">
 <stop offset="0" stop-color="#f8fbfb"/><stop offset="0.4" stop-color="#e6eef0"/><stop offset="0.75" stop-color="#a9bcc0"/><stop offset="1" stop-color="#6f868a"/></linearGradient>
<ellipse cx="478.5" cy="503.5" rx="29.5" ry="34" fill="url(#gRing1)" transform="rotate(-10 478.5 503.5)"/>
<ellipse cx="478.5" cy="503.5" rx="29.5" ry="34" fill="none" stroke="#0f1a18" stroke-width="1" transform="rotate(-10 478.5 503.5)"/>
<path d="M462,476 C470,470 482,469 492,473" fill="none" stroke="#c8d6d8" stroke-width="1.4"/>
<ellipse cx="472" cy="483.5" rx="6" ry="4.2" fill="#fbfdfd" transform="rotate(-15 472 483.5)"/>
<ellipse cx="488" cy="522" rx="6" ry="4" fill="#fbfdfd" transform="rotate(-15 488 522)"/>
<path d="M450,491 L494.5,478.5 C500,486 504,494 505.5,502 C506,507 505.5,511 504,514.5 L466,529 C458,523 453,517 451,511 C449.5,504 449.5,497 450,491 Z" fill="#2fa04a"/>
<path d="M450,491 L494.5,478.5" fill="none" stroke="#1f6a3a" stroke-width="0.7"/>
<path d="M497,487 L502,506" fill="none" stroke="#8fd69a" stroke-width="0.8" stroke-dasharray="1 1"/>
<circle cx="483" cy="473" r="1.5" fill="#0f1a18"/><circle cx="453.5" cy="487.5" r="2" fill="#dfe6e8" stroke="#0f1a18" stroke-width="0.8"/>
<path d="M447,512 C446,516 448,520 452,520 C454,519 455,515 453,512 Z" fill="#cfd8da" stroke="#0f1a18" stroke-width="0.8"/>
<path d="M474,531 L478,530 M482,528 L485,527 M489,525 L492,523 M497,520 L500,517" stroke="#e0e8ea" stroke-width="0.8"/>

<path d="M499,472 Q519.8,462.5 540,472.2" fill="none" stroke="#24558f" stroke-width="4.2" />
<path d="M501,470 Q519.8,461.5 538,470" fill="none" stroke="#5b93cf" stroke-width="1.0" />
<polygon points="496.5,472.3 502,467.5 503,473.5" fill="#1d3f6a"/><polygon points="542.5,472.5 535,467 535.5,474.5" fill="#1d3f6a"/>
<ellipse cx="561" cy="504.5" rx="30" ry="34" fill="url(#gRing2)" stroke="#1e2c30" stroke-width="1" transform="rotate(18 561 504.5)"/>
<path d="M533,520 C536,528 546,535 558,537" fill="none" stroke="#3d5258" stroke-width="2"/>
<ellipse cx="560" cy="503" rx="18" ry="21.5" fill="#f6f9fa" stroke="#1c2a30" stroke-width="1.3" transform="rotate(18 560 503)"/>
<path d="M543,512 C545,520 551,525 558,525" fill="none" stroke="#1c2a30" stroke-width="2.2"/>
<path d="M562,479 C567,476 572,476 575,477 C576,482 576,486 575,489 C572,485 567,482 562,479 Z" fill="#3e5054"/>
<circle cx="555.8" cy="475.7" r="1.4" fill="#1c2a30"/><circle cx="584.3" cy="490" r="1.4" fill="#1c2a30"/>
<circle cx="533.6" cy="516.2" r="1.4" fill="#1c2a30"/><circle cx="562.6" cy="531" r="1.4" fill="#1c2a30"/>
<path d="M537,492 L543,484" stroke="#7a8e94" stroke-width="2" stroke-dasharray="1 0.8"/>
<path d="M539,523 C544,528 550,530 555,531" fill="none" stroke="#6d8890" stroke-width="2.5"/>
<path d="M597.5,494.5 C600,502 600.5,510 599,517" fill="none" stroke="#222" stroke-width="1.1"/>
<path d="M590,503 L593,503.5 M589,509 L592,509.5" fill="none" stroke="#222" stroke-width="1"/>
<path d="M587,514 C590,511 597,511 599.5,516 C601,521 598,525 593,525 C589,525 586,521 587,514 Z" fill="#bfd0d4" stroke="#1a2428" stroke-width="0.9"/>
<path d="M594,523 C591,528 586,533 580,534.7 C577,535 576,532 577,530" fill="none" stroke="#222" stroke-width="0.9"/>

<text x="597.4" y="440.4" font-size="9.30" font-weight="normal" fill="#161616" textLength="30.1" lengthAdjust="spacingAndGlyphs" stroke="#151515" stroke-width="0.22">AUDIO</text>
<path d="M581.3,472.6 L595.2,445.8 L625,445.8" fill="none" stroke="#161616" stroke-width="0.9" />
<polygon points="630.7,445.8 623.7,448.3 623.7,443.3" fill="#161616"/>
<text x="621.0" y="553.2" font-size="9.45" font-weight="normal" fill="#161616" textLength="37.6" lengthAdjust="spacingAndGlyphs" stroke="#151515" stroke-width="0.22">IMAGE</text>
<line x1="640.2" y1="537.3" x2="602.5" y2="520.7" stroke="#161616" stroke-width="1.0"/>
<polygon points="602.5,520.7 609.0,520.9 607.0,525.3" fill="#161616"/>
<line x1="601" y1="524.2" x2="638.4" y2="540.8" stroke="#161616" stroke-width="1.0"/>
<polygon points="638.4,540.8 631.9,540.6 633.9,536.2" fill="#161616"/>
<clipPath id="cBig"><circle cx="749.5" cy="502" r="61"/></clipPath>
<linearGradient id="gPlate" x1="0" y1="0.3" x2="1" y2="0.6">
 <stop offset="0" stop-color="#ffffff"/><stop offset="0.3" stop-color="#f6fbfd"/><stop offset="0.5" stop-color="#cfe4ef"/><stop offset="0.62" stop-color="#a9c6da"/><stop offset="0.75" stop-color="#86a4ba"/><stop offset="0.88" stop-color="#6e8ca2"/><stop offset="1" stop-color="#5a7688"/></linearGradient>
<linearGradient id="gPlateV" x1="0" y1="0" x2="0" y2="1">
 <stop offset="0" stop-color="#ffffff" stop-opacity="0"/><stop offset="0.6" stop-color="#ffffff" stop-opacity="0"/><stop offset="0.8" stop-color="#dff0f8" stop-opacity="0.5"/><stop offset="1" stop-color="#c8dce8" stop-opacity="0.6"/></linearGradient>
<linearGradient id="gCap" x1="0" y1="0" x2="1" y2="0">
 <stop offset="0" stop-color="#1b4a36"/><stop offset="0.5" stop-color="#0f2e22"/><stop offset="1" stop-color="#123628"/></linearGradient>
<linearGradient id="gLeftDark" x1="0" y1="0" x2="0" y2="1">
 <stop offset="0" stop-color="#dfe6ea"/><stop offset="0.25" stop-color="#a9b6ba"/><stop offset="0.4" stop-color="#1e2e2a"/><stop offset="0.55" stop-color="#7d8d8c"/><stop offset="0.75" stop-color="#4a5a58"/><stop offset="1" stop-color="#16241f"/></linearGradient>
<linearGradient id="gStreak" x1="0" y1="0" x2="1" y2="0">
 <stop offset="0" stop-color="#1c2c28" stop-opacity="0.95"/><stop offset="0.6" stop-color="#405a58" stop-opacity="0.6"/><stop offset="1" stop-color="#8aa" stop-opacity="0"/></linearGradient>
<g clip-path="url(#cBig)">
<rect x="685" y="438" width="130" height="130" fill="url(#gPlate)"/>
<rect x="685" y="438" width="130" height="130" fill="url(#gPlateV)"/>
<path d="M768,470 C770,490 772,510 769,540 M776,468 C779,490 780,515 777,540" fill="none" stroke="#6f8fa8" stroke-width="2.5" opacity="0.18"/>
<path d="M680,430 L820,430 L820,457 L794,457 C775,464 760,466.5 748,466 C732,465 718,461 707,455.5 L680,456 Z" fill="url(#gCap)"/>
<line x1="765" y1="440" x2="765" y2="466" stroke="#4c7a66" stroke-width="0.6"/>
<path d="M802.7,466 C793,477 788.5,490 788.8,502.4 C789,515 794,528 803,538 L830,538 L830,466 Z" fill="#3fb54a"/>
<path d="M802.7,466 C793,477 788.5,490 788.8,502.4 C789,515 794,528 803,538" fill="none" stroke="#ffffff" stroke-width="1.3"/>
<path d="M680,488 L709.3,488 C711,500 711,520 709,534 L680,534 Z" fill="url(#gLeftDark)"/>
<circle cx="697" cy="519" r="3.4" fill="#cfd8db" stroke="#1a2824" stroke-width="1.2"/>
<circle cx="697" cy="519" r="1.2" fill="#1a2824"/>
<circle cx="697" cy="483" r="1.5" fill="#2d4a44"/>
<circle cx="788" cy="477" r="1.3" fill="#2d4a44"/><circle cx="786" cy="484" r="1.3" fill="#2d4a44"/>
<path d="M709,504 C725,503 745,503 758,504.5 C745,507 725,509 709,509.5 Z" fill="url(#gStreak)"/>
<path d="M703,545 C712,549 730,551 750,551 C770,551 786,548 796,542 L800,566 L700,566 Z" fill="#c6dde9"/>
<ellipse cx="750" cy="554" rx="13.5" ry="5" fill="#36a848"/>
<path d="M712,534 C716,529 724,530 727,535 C729,540 725,545 719,545 C714,545 711,540 712,534 Z" fill="#e8f2f6" stroke="#f9fcfd" stroke-width="1"/>
<path d="M713,535 C716,533 719,533 721,535" fill="none" stroke="#4a5a8a" stroke-width="1"/>
<path d="M768,538 C772,532 782,531 788,534 C791,538 788,544 782,545 C775,546 769,543 768,538 Z" fill="#3a4e50"/>
<path d="M770,540 C776,535 784,535 788,537" fill="none" stroke="#b8ccd4" stroke-width="0.8"/>
<ellipse cx="749.5" cy="540.5" rx="17" ry="7" fill="#2c4844" stroke="#f2f6f8" stroke-width="1.1"/>
<path d="M733,539 C740,533 760,533 766,539 Z" fill="#e6eef2"/>
<line x1="733" y1="539.5" x2="766" y2="539.5" stroke="#1e2e2c" stroke-width="0.8"/>
<circle cx="749.5" cy="536" r="0.8" fill="#3a4a8a"/>
<path d="M700,458 C704,452 708,453 708,456 L703,464 Z" fill="#e8eef0" stroke="#445" stroke-width="0.6"/>
<path d="M707,455.5 C697,465 699,478 705,486 C711,494 712,520 709,535 C706,545 712,552 720,554" fill="none" stroke="#ffffff" stroke-width="1"/>
</g>
<circle cx="749.5" cy="502" r="61" fill="none" stroke="#dfe8ec" stroke-width="0.8"/>
<path d="M888,454 L894,465 L903,479 L910,495 L913,505 L913,527 L905,545.7 L897,562 L888.5,578 Z" fill="#0d1a16" stroke="#0a0a0a" stroke-width="0.6" stroke-linejoin="round"/>
<path d="M893,466 L902,480 L908,494 L905,497 L897,484 Z" fill="#2f4a40" stroke="none" stroke-width="1.0" />
<ellipse cx="914" cy="516" rx="3.8" ry="5.2" fill="#142420"/>
<path d="M899,487 C905,489 910,496 911,505 C907,507 902,506 899,503 Z" fill="#d8e2e4" stroke="none" stroke-width="1.0" />
<circle cx="904" cy="496" r="1.6" fill="#2a3a36"/>
<path d="M901,530 C905,531 908,534 909,538 C906,542 902,542 901,538 Z" fill="#c6d2d4" stroke="none" stroke-width="1.0" />
<path d="M891,511 L897,510 L896,513 L891,514 Z" fill="#e8eeee" stroke="none" stroke-width="1.0" />
<path d="M892,548 L901,546 L898,556 L893,558 Z" fill="#9aa8a8" stroke="none" stroke-width="1.0" />
<path d="M890,470 C896,476 902,482 906,488" fill="none" stroke="#3a5a4a" stroke-width="1.0" />
<polygon points="366.5,582.0 371.0,591.5 362.0,591.5" fill="#161616"/>
<line x1="366.5" y1="592" x2="366.5" y2="627" stroke="#161616" stroke-width="1.0" stroke-dasharray="7 3 6 3 20"/>
<line x1="364.7" y1="621" x2="464" y2="621" stroke="#161616" stroke-width="1.1"/>
<line x1="473.5" y1="621" x2="511.7" y2="621.2" stroke="#161616" stroke-width="1.1"/>
<line x1="524.5" y1="621.2" x2="557.5" y2="621.3" stroke="#161616" stroke-width="1.1"/>
<line x1="573.5" y1="621.5" x2="605.5" y2="622" stroke="#161616" stroke-width="1.1"/>
<line x1="618.7" y1="621.5" x2="650.6" y2="622" stroke="#161616" stroke-width="1.1"/>
<line x1="665" y1="621.5" x2="698.6" y2="622" stroke="#161616" stroke-width="1.1"/>
<line x1="712" y1="621.5" x2="740" y2="622" stroke="#161616" stroke-width="1.1"/>
<line x1="753" y1="621.5" x2="776" y2="622" stroke="#161616" stroke-width="1.1"/>
<line x1="789" y1="621.5" x2="812" y2="622" stroke="#161616" stroke-width="1.1"/>
<line x1="818.5" y1="621.5" x2="846.5" y2="622" stroke="#161616" stroke-width="1.1"/>
<line x1="855.8" y1="621.5" x2="886.4" y2="622" stroke="#161616" stroke-width="1.1"/>
<line x1="885.6" y1="590" x2="885.6" y2="626" stroke="#161616" stroke-width="1.0" stroke-dasharray="22 3 12"/>
<polygon points="887.0,580.0 892.2,590.5 881.8,590.5" fill="#161616"/>
<line x1="475.3" y1="627" x2="475.3" y2="670.7" stroke="#161616" stroke-width="1.0"/>
<polygon points="475.3,670.7 470.8,660.7 479.8,660.7" fill="#161616"/>
<line x1="568.5" y1="626.6" x2="568.5" y2="670" stroke="#161616" stroke-width="1.0"/>
<polygon points="568.5,670.0 564.0,660.0 573.0,660.0" fill="#161616"/>
<text x="497.9" y="683.2" font-size="13.37" font-weight="normal" fill="#161616" textLength="21.3" lengthAdjust="spacingAndGlyphs" stroke="#151515" stroke-width="0.22">3RD</text>
<text x="525.9" y="683.2" font-size="13.37" font-weight="normal" fill="#161616" textLength="33.3" lengthAdjust="spacingAndGlyphs" stroke="#151515" stroke-width="0.22">PARTY</text>
<text x="626.6" y="635.8" font-size="9.30" font-weight="normal" fill="#161616" textLength="82.6" lengthAdjust="spacingAndGlyphs" stroke="#151515" stroke-width="0.22">COMMUNICATE</text>
<line x1="74.2" y1="122.5" x2="79.5" y2="122.5" stroke="#161616" stroke-width="1.2"/>
</svg></div></body></html>
